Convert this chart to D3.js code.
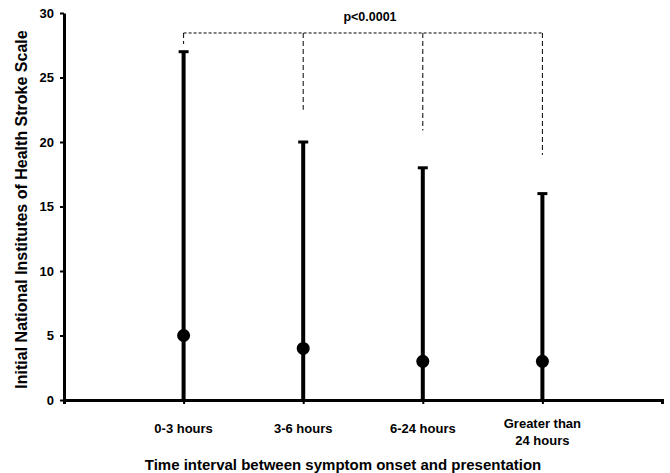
<!DOCTYPE html>
<html>
<head>
<meta charset="utf-8">
<script src="https://cdn.jsdelivr.net/npm/d3@7"></script>
<style>
  body { margin: 0; background: #fff; }
  svg { font-family: "Liberation Sans", Arial, sans-serif; font-weight: bold; }
</style>
</head>
<body>
<div id="chart"></div>
<script>
// categories and values
const categories = ['0-3 hours', '3-6 hours', '6-24 hours', 'Greater than\n24 hours'];
const medians = [5, 4, 3, 3];
const maxima = [27, 20, 18, 16];
const yTicks = [0, 5, 10, 15, 20, 25, 30];
// significance bracket
const bracketLevel = 28.45;
const bracketDrops = [27.6, 22.5, 20.9, 19.0];
const pLabel = 'p<0.0001';

const width = 670,
  height = 473,
  marginTop = 13,
  marginLeft = 64,
  marginRight = 8,
  marginBottom = 73;

const x = d3.scalePoint()
  .domain(categories)
  .range([marginLeft, width - marginRight])
  .padding(1);

const y = d3.scaleLinear()
  .domain([0, 30])
  .range([height - marginBottom, marginTop]);

const svg = d3.select('#chart').append('svg')
  .attr('width', width)
  .attr('height', height)
  .attr('viewBox', [0, 0, width, height]);

// y axis
svg.append('g')
  .attr('transform', `translate(${marginLeft},0)`)
  .call(d3.axisLeft(y).tickValues(yTicks).tickSize(4).tickPadding(6).tickSizeOuter(0))
  .call(g => g.select('.domain').attr('stroke-width', 3))
  .call(g => g.selectAll('.tick line').attr('stroke-width', 2))
  .call(g => g.selectAll('.tick text').attr('font-size', 13).attr('font-weight', 'bold'));

// x axis
svg.append('g')
  .attr('transform', `translate(0,${y(0)})`)
  .call(d3.axisBottom(x).tickSize(4).tickSizeOuter(4).tickFormat(''))
  .call(g => g.select('.domain').attr('stroke-width', 3))
  .call(g => g.selectAll('.tick line').attr('stroke-width', 2));

svg.append('g')
  .selectAll('text')
  .data(categories)
  .join('text')
  .attr('x', d => x(d))
  .attr('y', y(0) + 33)
  .attr('text-anchor', 'middle')
  .attr('font-size', 13)
  .each(function(d) {
    const lines = d.split('\n');
    const t = d3.select(this);
    if (lines.length > 1) t.attr('y', y(0) + 28);
    lines.forEach((l, i) => t.append('tspan')
      .attr('x', x(d))
      .attr('dy', i ? 17 : 0)
      .text(l));
  });

// error bars (range from 0 to max) with median dot
const bars = svg.append('g')
  .selectAll('g')
  .data(categories)
  .join('g');

bars.append('line')
  .attr('x1', d => x(d))
  .attr('x2', d => x(d))
  .attr('y1', y(0))
  .attr('y2', (d, i) => y(maxima[i]))
  .attr('stroke', '#000')
  .attr('stroke-width', 4);

bars.append('line')
  .attr('x1', d => x(d) - 5)
  .attr('x2', d => x(d) + 5)
  .attr('y1', (d, i) => y(maxima[i]))
  .attr('y2', (d, i) => y(maxima[i]))
  .attr('stroke', '#000')
  .attr('stroke-width', 3);

bars.append('circle')
  .attr('cx', d => x(d))
  .attr('cy', (d, i) => y(medians[i]))
  .attr('r', 6.5)
  .attr('fill', '#000');

// bracket
const bracket = svg.append('g')
  .attr('stroke', '#000')
  .attr('stroke-width', 1)
  .attr('stroke-dasharray', '3,2')
  .attr('fill', 'none');

bracket.append('line')
  .attr('x1', x(categories[0]))
  .attr('x2', x(categories[categories.length - 1]))
  .attr('y1', y(bracketLevel))
  .attr('y2', y(bracketLevel));

bracket.selectAll('.drop')
  .data(categories)
  .join('line')
  .attr('class', 'drop')
  .attr('stroke-dasharray', '5,3')
  .attr('x1', d => x(d))
  .attr('x2', d => x(d))
  .attr('y1', y(bracketLevel))
  .attr('y2', (d, i) => y(bracketDrops[i]));

svg.append('text')
  .attr('x', (x(categories[0]) + x(categories[categories.length - 1])) / 2 + 7)
  .attr('y', 21)
  .attr('text-anchor', 'middle')
  .attr('font-size', 12.5)
  .text(pLabel);

// axis titles
svg.append('text')
  .attr('transform', `translate(27,${(y(0) + y(30)) / 2 + 3}) rotate(-90)`)
  .attr('text-anchor', 'middle')
  .attr('font-size', 16)
  .text('Initial National Institutes of Health Stroke Scale');

svg.append('text')
  .attr('x', 343)
  .attr('y', 470)
  .attr('text-anchor', 'middle')
  .attr('font-size', 15)
  .text('Time interval between symptom onset and presentation');
</script>
</body>
</html>
